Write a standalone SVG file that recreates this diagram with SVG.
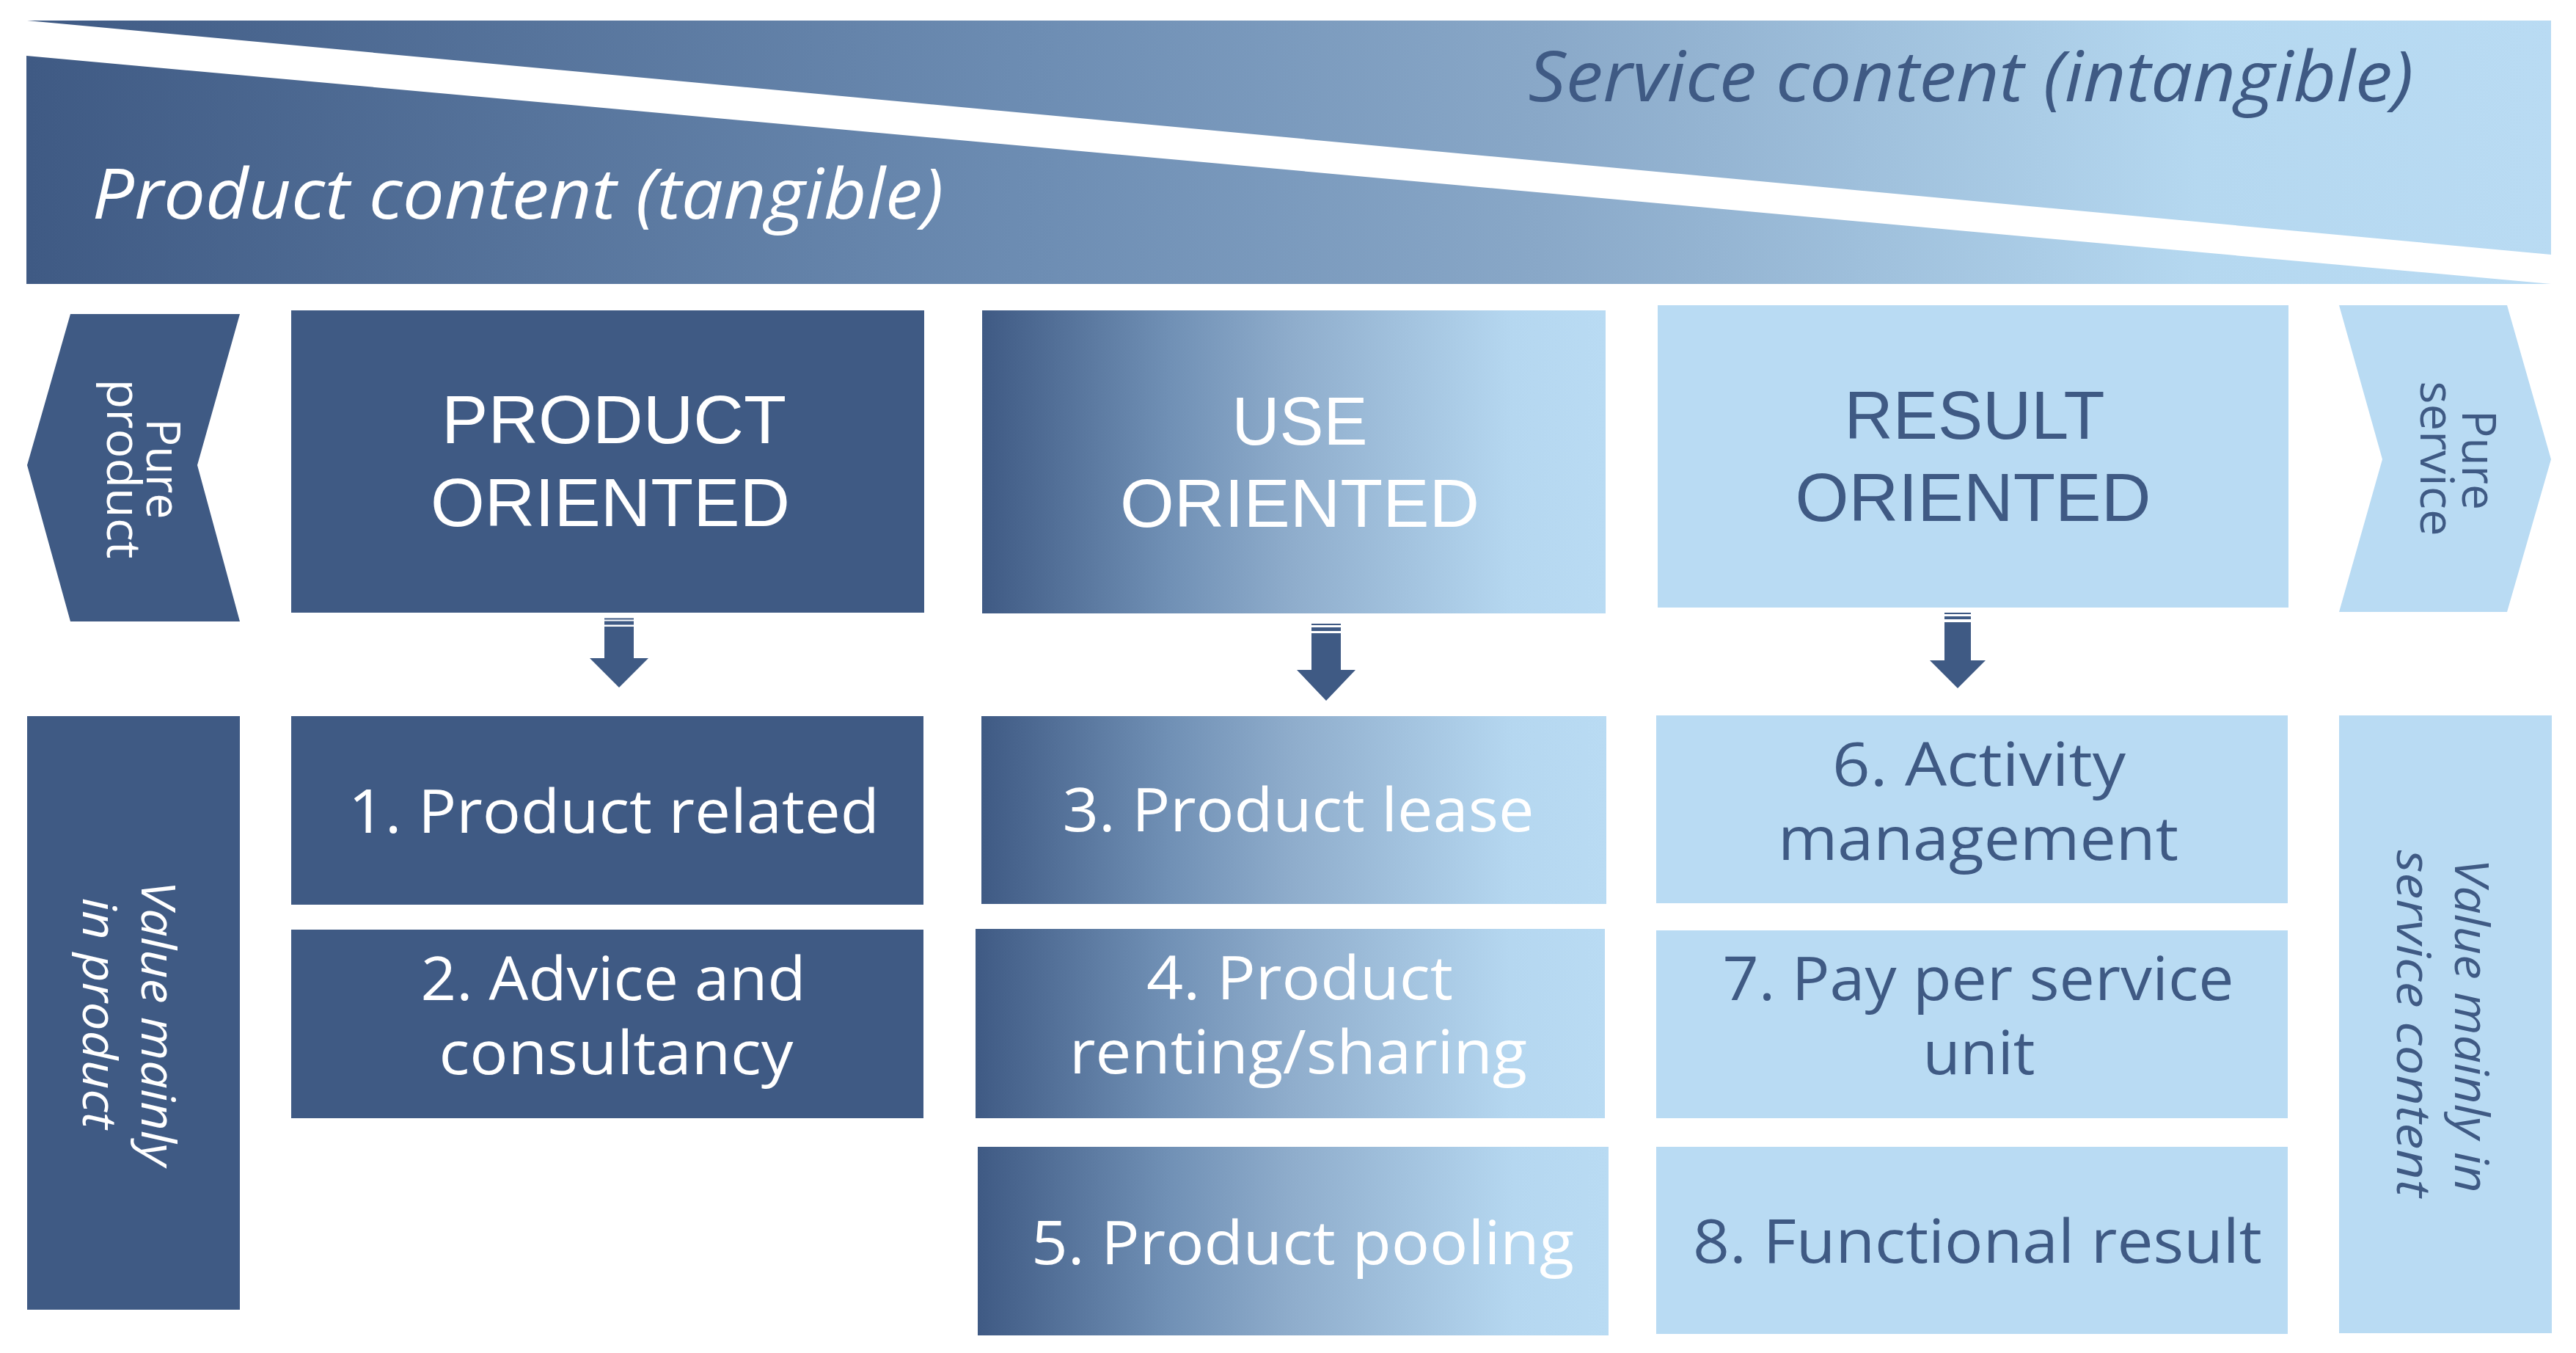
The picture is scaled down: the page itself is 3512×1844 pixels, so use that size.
<svg xmlns="http://www.w3.org/2000/svg" width="3512" height="1844" viewBox="0 0 3512 1844">
<defs>
<linearGradient id="band" gradientUnits="userSpaceOnUse" x1="36" y1="0" x2="3478" y2="0">
<stop offset="0" stop-color="#3f5a84"/>
<stop offset="0.4" stop-color="#6d8db3"/>
<stop offset="0.6" stop-color="#89a8c8"/>
<stop offset="0.86" stop-color="#b5d8f0"/>
<stop offset="1" stop-color="#b9dbf3"/>
</linearGradient>
<linearGradient id="use" x1="0" y1="0" x2="1" y2="0">
<stop offset="0" stop-color="#3f5a84"/>
<stop offset="0.3" stop-color="#7090b5"/>
<stop offset="0.5" stop-color="#8fadcc"/>
<stop offset="0.85" stop-color="#b5d7f0"/>
<stop offset="1" stop-color="#b9dbf3"/>
</linearGradient>
<style>
.dark{fill:#3f5a84}
.light{fill:#b9dbf3}
.grad{fill:url(#use)}
.band{fill:url(#band)}
.t{font-family:"Open Sans","Liberation Sans",sans-serif;text-anchor:middle}
.w{fill:#ffffff}
.d{fill:#3f5a84}
.hd{font-family:"Liberation Sans","Open Sans",sans-serif;font-size:92px}
.bx{font-size:82px}
.tp{font-size:95px;font-style:italic}
.rt{font-size:64px}
.arrow{fill:#3f5a84}
</style>
</defs>

<g id="band-service">
<polygon class="band" points="37,28 3478,28 3478,347"/>
<text class="t tp d" x="2687" y="138" textLength="1207" lengthAdjust="spacingAndGlyphs">Service content (intangible)</text>
</g>
<g id="band-product">
<polygon class="band" points="36,76 3478,387 36,387"/>
<text class="t tp w" x="706" y="298" textLength="1161" lengthAdjust="spacingAndGlyphs">Product content (tangible)</text>
</g>

<g id="pure-product">
<polygon class="dark" points="96,428 327,428 269,634 327,847 96,847 37,634"/>
<text class="t rt w" transform="translate(200,639) rotate(90)" textLength="137" lengthAdjust="spacingAndGlyphs">Pure</text>
<text class="t rt w" transform="translate(146,639) rotate(90)" textLength="245" lengthAdjust="spacingAndGlyphs">product</text>
</g>

<g id="product-oriented">
<rect class="dark" x="397" y="423" width="863" height="412"/>
<text class="t hd w" x="837" y="604" textLength="470" lengthAdjust="spacingAndGlyphs">PRODUCT</text>
<text class="t hd w" x="832" y="717" textLength="490" lengthAdjust="spacingAndGlyphs">ORIENTED</text>
</g>

<g id="use-oriented">
<rect class="grad" x="1339" y="423" width="850" height="413"/>
<text class="t hd w" x="1772" y="606" textLength="185" lengthAdjust="spacingAndGlyphs">USE</text>
<text class="t hd w" x="1772" y="718" textLength="490" lengthAdjust="spacingAndGlyphs">ORIENTED</text>
</g>

<g id="result-oriented">
<rect class="light" x="2260" y="416" width="860" height="412"/>
<text class="t hd d" x="2692" y="598" textLength="355" lengthAdjust="spacingAndGlyphs">RESULT</text>
<text class="t hd d" x="2690" y="710" textLength="485" lengthAdjust="spacingAndGlyphs">ORIENTED</text>
</g>

<g id="pure-service">
<polygon class="light" points="3189,416 3418,416 3478,626 3418,834 3189,834 3248,626"/>
<text class="t rt d" transform="translate(3357,627) rotate(90)" textLength="136" lengthAdjust="spacingAndGlyphs">Pure</text>
<text class="t rt d" transform="translate(3300,625) rotate(90)" textLength="211" lengthAdjust="spacingAndGlyphs">service</text>
</g>

<g id="value-product">
<rect class="dark" x="37" y="976" width="290" height="809"/>
<text class="t rt w" font-style="italic" transform="translate(193,1395) rotate(90)" textLength="389" lengthAdjust="spacingAndGlyphs">Value mainly</text>
<text class="t rt w" font-style="italic" transform="translate(113,1381) rotate(90)" textLength="315" lengthAdjust="spacingAndGlyphs">in product</text>
</g>

<g id="value-service">
<rect class="light" x="3189" y="975" width="290" height="842"/>
<text class="t rt d" font-style="italic" transform="translate(3347,1398) rotate(90)" textLength="455" lengthAdjust="spacingAndGlyphs">Value mainly in</text>
<text class="t rt d" font-style="italic" transform="translate(3268,1395) rotate(90)" textLength="473" lengthAdjust="spacingAndGlyphs">service content</text>
</g>

<g id="box1">
<rect class="dark" x="397" y="976" width="862" height="257"/>
<text class="t bx w" x="837" y="1135" textLength="724" lengthAdjust="spacingAndGlyphs">1. Product related</text>
</g>
<g id="box2">
<rect class="dark" x="397" y="1267" width="862" height="257"/>
<text class="t bx w" x="836" y="1363" textLength="525" lengthAdjust="spacingAndGlyphs">2. Advice and</text>
<text class="t bx w" x="840" y="1464" textLength="483" lengthAdjust="spacingAndGlyphs">consultancy</text>
</g>
<g id="box3">
<rect class="grad" x="1338" y="976" width="852" height="256"/>
<text class="t bx w" x="1770" y="1133" textLength="643" lengthAdjust="spacingAndGlyphs">3. Product lease</text>
</g>
<g id="box4">
<rect class="grad" x="1330" y="1266" width="858" height="258"/>
<text class="t bx w" x="1772" y="1362" textLength="418" lengthAdjust="spacingAndGlyphs">4. Product</text>
<text class="t bx w" x="1770" y="1463" textLength="624" lengthAdjust="spacingAndGlyphs">renting/sharing</text>
</g>
<g id="box5">
<rect class="grad" x="1333" y="1563" width="860" height="257"/>
<text class="t bx w" x="1776" y="1723" textLength="740" lengthAdjust="spacingAndGlyphs">5. Product pooling</text>
</g>
<g id="box6">
<rect class="light" x="2258" y="975" width="861" height="256"/>
<text class="t bx d" x="2698" y="1071" textLength="400" lengthAdjust="spacingAndGlyphs">6. Activity</text>
<text class="t bx d" x="2697" y="1172" textLength="546" lengthAdjust="spacingAndGlyphs">management</text>
</g>
<g id="box7">
<rect class="light" x="2258" y="1268" width="861" height="256"/>
<text class="t bx d" x="2697" y="1363" textLength="697" lengthAdjust="spacingAndGlyphs">7. Pay per service</text>
<text class="t bx d" x="2698" y="1464" textLength="153" lengthAdjust="spacingAndGlyphs">unit</text>
</g>
<g id="box8">
<rect class="light" x="2258" y="1563" width="861" height="255"/>
<text class="t bx d" x="2696" y="1721" textLength="776" lengthAdjust="spacingAndGlyphs">8. Functional result</text>
</g>

<g id="connectors">
<path class="arrow" d="M824,842.5h40v2h-40z M824,846.5h40v5h-40z M824,854h40v43h20l-40,40l-40,-40h20z"/>
<path class="arrow" d="M1788,850h40v2h-40z M1788,855h40v5h-40z M1788,863h40v50h20l-40,42l-40,-42h20z"/>
<path class="arrow" d="M2651,835h36v2h-36z M2651,840h36v4h-36z M2651,848h36v52h20l-38,38l-38,-38h20z"/>
</g>
</svg>
